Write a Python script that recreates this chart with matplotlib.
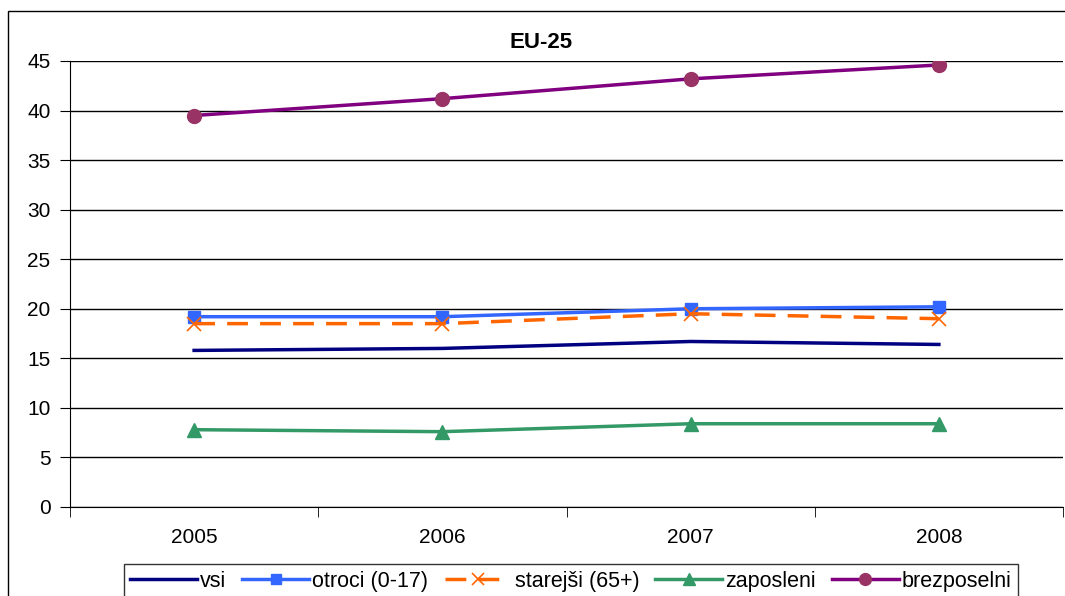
import matplotlib
matplotlib.use("Agg")
from matplotlib import pyplot as plt
import matplotlib.patches as mpatches

plt.rcParams['font.family'] = ['Liberation Sans', 'DejaVu Sans']

years = ['2005', '2006', '2007', '2008']
vsi = [15.8, 16.0, 16.7, 16.4]
otroci = [19.2, 19.2, 20.0, 20.2]
starejsi = [18.5, 18.5, 19.5, 19.0]
zaposleni = [7.8, 7.6, 8.4, 8.4]
brezposelni = [39.5, 41.2, 43.2, 44.6]

fig = plt.figure(figsize=(10.65, 5.96), dpi=100)
# outer chart border (right edge falls outside the picture)
fig.patches.append(mpatches.Rectangle((8/1065, -0.01), 1.0, 1 - 11/596 + 0.01, transform=fig.transFigure,
                                      fill=False, edgecolor='black', lw=1))
ax = fig.add_axes([70/1065, 1 - 507/596, 993/1065, 446/596])

x = range(len(years))
ax.plot(x, vsi, color='#000080', lw=2.5, label='vsi')
ax.plot(x, otroci, color='#3366FF', lw=2.5, marker='s', ms=9, label='otroci (0-17)')
ax.plot(x, starejsi, color='#FF6600', lw=2.5, ls=(0, (6, 3.5)), marker='x', ms=10, mew=1.2,
        label='starejši (65+)')
ax.plot(x, zaposleni, color='#339966', lw=2.5, marker='^', ms=10, label='zaposleni')
ax.plot(x, brezposelni, color='#800080', lw=2.5, marker='o', ms=10, mfc='#993366', mec='#993366',
        label='brezposelni')

ax.set_xlim(-0.5, 3.5)
ax.set_ylim(0, 45)
ax.set_yticks(range(0, 46, 5))
ax.yaxis.grid(True, color='black', lw=1)
ax.set_axisbelow(True)
ax.set_xticks(x)
ax.set_xticklabels(years)
ax.set_xticks([i - 0.5 for i in range(5)], minor=True)
ax.tick_params(axis='x', which='major', length=0, labelsize=15, pad=15)
ax.tick_params(axis='x', which='minor', length=7, color='black')
ax.tick_params(axis='y', length=7, labelsize=15, pad=7)
for s in ['top', 'right']:
    ax.spines[s].set_visible(False)
fig.text(541/1065, 1 - 42/596, 'EU-25', fontsize=16, fontweight='bold', ha='center', va='center')

leg = fig.legend(loc='lower center', bbox_to_anchor=(571/1065, -0.022), ncol=5, frameon=True,
                 fancybox=False, edgecolor='black', fontsize=15.5, handlelength=3.1,
                 handletextpad=0.15, columnspacing=0.75, borderpad=0.3, markerscale=0.85)
leg.get_frame().set_linewidth(1)

fig.savefig('out.png', dpi=100)
